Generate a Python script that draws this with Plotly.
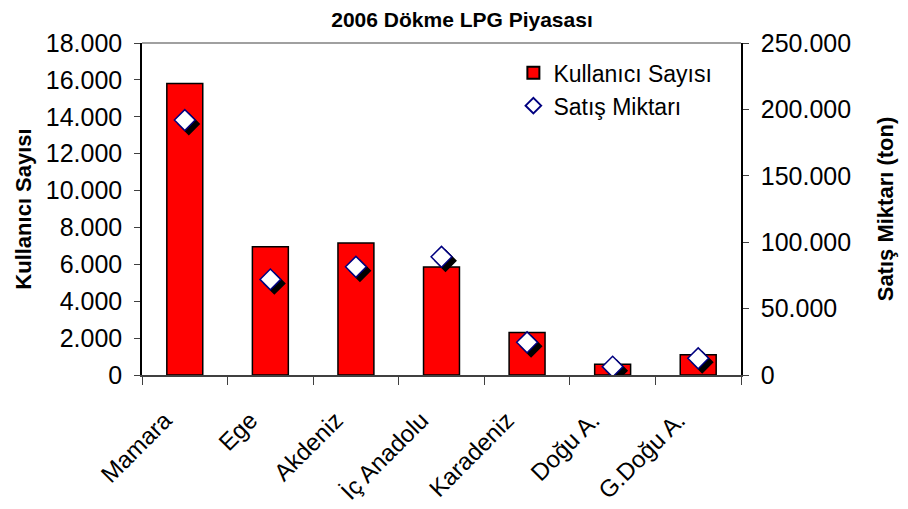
import plotly.graph_objects as go

categories = ["Mamara", "Ege", "Akdeniz", "İç Anadolu", "Karadeniz", "Doğu A.", "G.Doğu A."]
kullanici_sayisi = [15800, 6950, 7150, 5850, 2300, 580, 1100]
satis_miktari = [192000, 72000, 81500, 89000, 24600, 6300, 12600]

left_ticks = [0, 2000, 4000, 6000, 8000, 10000, 12000, 14000, 16000, 18000]
right_ticks = [0, 50000, 100000, 150000, 200000, 250000]

FONT = "Liberation Sans, Arial, sans-serif"

# shadow offset in pixels
plot_w = 599
plot_h = 332
dx_px, dy_px = 4, 4
n = len(categories)
dx = dx_px * n / plot_w
dy = dy_px * 250000 / plot_h

fig = go.Figure()

fig.add_trace(go.Bar(
    x=categories, y=kullanici_sayisi, name="Kullanıcı Sayısı",
    marker=dict(color="#FF0000", line=dict(color="#000000", width=1.5)),
    xaxis="x", yaxis="y",
))

fig.add_trace(go.Scatter(
    x=categories, y=satis_miktari, mode="markers", showlegend=False,
    marker=dict(symbol="diamond", size=16, color="#000000",
                line=dict(color="#000000", width=1.5)),
    xaxis="x2", yaxis="y3", hoverinfo="skip",
))

fig.add_trace(go.Scatter(
    x=categories, y=satis_miktari, mode="markers", name="Satış Miktarı",
    marker=dict(symbol="diamond", size=16, color="#FFFFFF",
                line=dict(color="#000080", width=1.5)),
    xaxis="x3", yaxis="y4",
))

fig.add_trace(go.Scatter(
    x=[None], y=[None], mode="markers", showlegend=False,
    xaxis="x", yaxis="y2",
))

fig.update_layout(
    width=908, height=509,
    margin=dict(l=134, r=175, t=35, b=142, autoexpand=False),
    paper_bgcolor="white", plot_bgcolor="white",
    separators=",.",
    font=dict(family=FONT, size=22, color="#000000"),
    title=dict(text="<b>2006 Dökme LPG Piyasası</b>", x=0.5, xanchor="center",
               y=0.992, yanchor="top", font=dict(family=FONT, size=21, color="#000000")),
    bargap=0.58,
    showlegend=True,
    legend=dict(x=0.62, y=0.975, xanchor="left", yanchor="top",
                bgcolor="rgba(0,0,0,0)", font=dict(family=FONT, size=23),
                tracegroupgap=0, itemsizing="constant"),
    xaxis=dict(
        type="category", range=[-0.5, n - 0.5], tickangle=-45,
        showline=True, linecolor="#404040", linewidth=1.5,
        ticks="outside", tickson="boundaries", ticklen=8, tickcolor="#404040",
        showgrid=False, zeroline=False, tickfont=dict(family=FONT, size=24),
        ticklabelstandoff=20, ticklabelshift=-20,
    ),
    xaxis2=dict(type="category", overlaying="x", range=[-0.5 - dx, n - 0.5 - dx],
                visible=False, showgrid=False, zeroline=False),
    xaxis3=dict(type="category", overlaying="x", range=[-0.5, n - 0.5],
                visible=False, showgrid=False, zeroline=False),
    yaxis=dict(
        range=[0, 18000], tickvals=left_ticks, tickformat=",d",
        showline=True, linecolor="#000000", linewidth=1.5,
        ticks="outside", ticklen=6, tickcolor="#404040",
        showgrid=False, zeroline=False, tickfont=dict(family=FONT, size=25),
        ticklabelstandoff=7,
        title=dict(text="<b>Kullanıcı Sayısı</b>", font=dict(family=FONT, size=22), standoff=8),
    ),
    yaxis2=dict(
        overlaying="y", side="right", anchor="x",
        range=[0, 250000], tickvals=right_ticks, tickformat=",d",
        showline=True, linecolor="#000000", linewidth=1.5,
        ticks="outside", ticklen=6, tickcolor="#404040",
        showgrid=False, zeroline=False, tickfont=dict(family=FONT, size=25),
        ticklabelstandoff=7,
        title=dict(text="<b>Satış Miktarı (ton)</b>", font=dict(family=FONT, size=22), standoff=27),
    ),
    yaxis3=dict(overlaying="y", range=[dy, 250000 + dy], visible=False,
                showgrid=False, zeroline=False),
    yaxis4=dict(overlaying="y", range=[0, 250000], visible=False,
                showgrid=False, zeroline=False),
    shapes=[dict(type="line", xref="paper", yref="paper", x0=0, x1=1, y0=1, y1=1,
                 line=dict(color="#808080", width=1.5))],
)

fig.write_html("out.html")
